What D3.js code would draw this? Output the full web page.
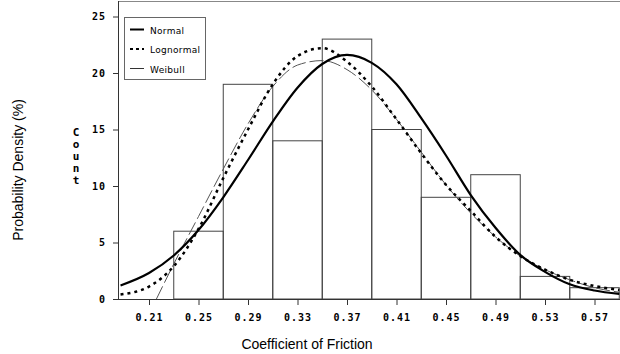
<!DOCTYPE html>
<meta charset="utf-8">
<head>
<script src="https://d3js.org/d3.v7.min.js"></script>
<style>
  body { margin: 0; background: #fff; }
  .tick text { font: bold 10px "DejaVu Sans Mono", monospace; letter-spacing: 1px; fill: #000; }
  .tick line, .domain { stroke: #333; }
</style>
</head>
<body>
<svg width="620" height="354"></svg>
<script>
// histogram (percent per 0.04 bin)
var binStarts = [0.23, 0.27, 0.31, 0.35, 0.39, 0.43, 0.47, 0.51, 0.55];
var binPct = [6, 19, 14, 23, 15, 9, 11, 2, 1];
var binWidth = 0.04;

// fitted curves
var curveX = [0.187, 0.21, 0.23, 0.25, 0.27, 0.29, 0.31, 0.33, 0.35, 0.37, 0.39, 0.41, 0.43, 0.45, 0.47, 0.49, 0.51, 0.53, 0.55, 0.57, 0.59];
var normalPct = [1.2, 2.3, 3.85, 6.1, 9.0, 12.3, 15.7, 18.7, 20.8, 21.6, 20.9, 19.0, 16.0, 12.7, 9.2, 6.3, 3.9, 2.4, 1.3, 0.75, 0.45];
var lognormalPct = [0.4, 1.1, 2.9, 6.2, 10.7, 15.0, 19.0, 21.5, 22.2, 21.0, 18.8, 15.9, 12.9, 10.1, 7.8, 5.5, 3.8, 2.6, 1.7, 1.15, 0.8];
var weibullX = [0.216, 0.23, 0.25, 0.27, 0.29, 0.31, 0.33, 0.35, 0.37, 0.39, 0.41, 0.43, 0.45, 0.47, 0.49, 0.51, 0.53, 0.55, 0.57, 0.59];
var weibullPct = [0, 3.1, 7.3, 11.5, 15.5, 18.8, 20.7, 21.1, 20.3, 18.5, 15.9, 13.0, 10.1, 7.6, 5.5, 3.8, 2.6, 1.7, 1.0, 0.6];

var xTicks = [0.21, 0.25, 0.29, 0.33, 0.37, 0.41, 0.45, 0.49, 0.53, 0.57];
var yTicks = [0, 5, 10, 15, 20, 25];
var legendNames = ["Normal", "Lognormal", "Weibull"];

var svg = d3.select("svg");

var x = d3.scaleLinear().domain([0.21, 0.57]).range([149, 594.5]);
var y = d3.scaleLinear().domain([0, 25]).range([299, 16.5]);

// frame top
svg.append("line")
    .attr("x1", 118).attr("x2", 620).attr("y1", 1.5).attr("y2", 1.5)
    .attr("stroke", "#888");

// bars
svg.append("g").selectAll("rect")
    .data(binStarts)
    .enter().append("rect")
    .attr("x", function (d) { return x(d); })
    .attr("y", function (d, i) { return y(binPct[i]); })
    .attr("width", function (d) { return x(d + binWidth) - x(d); })
    .attr("height", function (d, i) { return y(0) - y(binPct[i]); })
    .attr("fill", "none")
    .attr("stroke", "#444")
    .attr("stroke-width", 1);

// axes
var xAxis = svg.append("g")
    .attr("transform", "translate(0,299)")
    .call(d3.axisBottom(x).tickValues(xTicks).tickFormat(d3.format(".2f")).tickSize(6).tickSizeOuter(0).tickPadding(9));
xAxis.select(".domain").remove();
svg.append("line")
    .attr("x1", 118).attr("x2", 620).attr("y1", 299.5).attr("y2", 299.5)
    .attr("stroke", "#333");

var yAxis = svg.append("g")
    .attr("transform", "translate(118,0)")
    .call(d3.axisLeft(y).tickValues(yTicks).tickSize(5).tickSizeOuter(0).tickPadding(7));
yAxis.select(".domain").remove();
svg.append("line")
    .attr("x1", 118.5).attr("x2", 118.5).attr("y1", 1).attr("y2", 300)
    .attr("stroke", "#333");

// curves
var line = d3.line()
    .x(function (d) { return x(d[0]); })
    .y(function (d) { return y(d[1]); })
    .curve(d3.curveMonotoneX);

svg.append("path")
    .datum(d3.zip(weibullX, weibullPct))
    .attr("d", line)
    .attr("fill", "none")
    .attr("stroke", "#555")
    .attr("stroke-width", 1)
    .attr("stroke-dasharray", "14,4");

svg.append("path")
    .datum(d3.zip(curveX, lognormalPct))
    .attr("d", line)
    .attr("fill", "none")
    .attr("stroke", "#000")
    .attr("stroke-width", 2.5)
    .attr("stroke-dasharray", "3,4");

svg.append("path")
    .datum(d3.zip(curveX, normalPct))
    .attr("d", line)
    .attr("fill", "none")
    .attr("stroke", "#000")
    .attr("stroke-width", 2.2);

// legend
var legend = svg.append("g");
legend.append("rect")
    .attr("x", 124.5).attr("y", 17.5).attr("width", 81).attr("height", 62)
    .attr("fill", "#fff").attr("stroke", "#666");

var legendStyle = [
    { w: 2, dash: null, color: "#000" },
    { w: 2, dash: "3,3", color: "#000" },
    { w: 1, dash: null, color: "#333" }
];

legendNames.forEach(function (name, i) {
    var ly = 29.5 + i * 19.5;
    legend.append("line")
        .attr("x1", 130).attr("x2", 144).attr("y1", ly).attr("y2", ly)
        .attr("stroke", legendStyle[i].color)
        .attr("stroke-width", legendStyle[i].w)
        .attr("stroke-dasharray", legendStyle[i].dash);
    legend.append("text")
        .attr("x", 150).attr("y", ly + 4)
        .style("font", "9px 'DejaVu Sans', sans-serif")
        .style("letter-spacing", "0.3px")
        .text(name);
});

// "Count" stacked letters
svg.append("g").selectAll("text")
    .data("Count".split(""))
    .enter().append("text")
    .attr("x", 76)
    .attr("y", function (d, i) { return 136 + i * 12; })
    .attr("text-anchor", "middle")
    .style("font", "bold 11px 'DejaVu Sans Mono', monospace")
    .text(function (d) { return d; });

// axis titles
svg.append("text")
    .attr("transform", "translate(23,170) rotate(-90)")
    .attr("text-anchor", "middle")
    .style("font", "14px 'Liberation Sans', Arial, sans-serif")
    .text("Probability Density (%)");

svg.append("text")
    .attr("x", 307).attr("y", 349)
    .attr("text-anchor", "middle")
    .style("font", "14px 'Liberation Sans', Arial, sans-serif")
    .text("Coefficient of Friction");
</script>
</body>
